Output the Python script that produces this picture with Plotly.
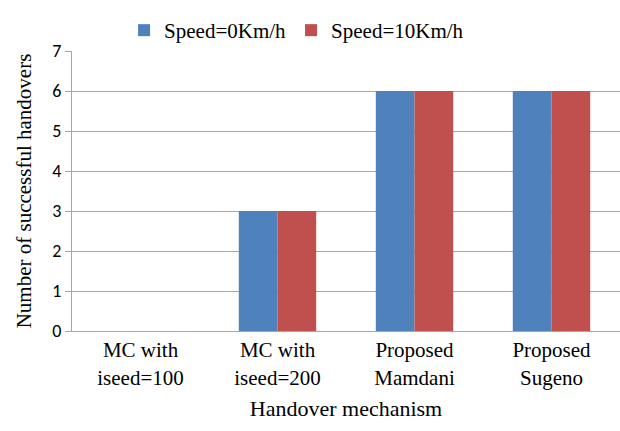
import plotly.graph_objects as go

categories = ["MC with<br>iseed=100", "MC with<br>iseed=200", "Proposed<br>Mamdani", "Proposed<br>Sugeno"]
speed0 = [0, 3, 6, 6]
speed10 = [0, 3, 6, 6]
series_names = ["Speed=0Km/h", "Speed=10Km/h"]
y_ticks = [0, 1, 2, 3, 4, 5, 6, 7]

serif = "Times New Roman"
sans = "Carlito"

fig = go.Figure()
fig.add_trace(go.Bar(x=categories, y=speed0, name=series_names[0], marker_color="#4f81bd",
                     marker_line_width=0))
fig.add_trace(go.Bar(x=categories, y=speed10, name=series_names[1], marker_color="#c0504d",
                     marker_line_width=0))

fig.update_layout(
    template="none",
    width=620, height=431,
    margin=dict(l=72, r=0, t=51, b=100),
    barmode="group", bargap=0.435, bargroupgap=0,
    font=dict(family=serif, size=21, color="#000000"),
    legend=dict(orientation="h", x=0.095, xanchor="left", y=1.0, yanchor="bottom",
                font=dict(family=serif, size=21), itemwidth=30, tracegroupgap=0),
    xaxis=dict(showline=True, linecolor="#a6a6a6", linewidth=1, ticks="", showgrid=False,
               tickfont=dict(family=serif, size=21),
               title=dict(text="Handover mechanism", font=dict(family=serif, size=22), standoff=12)),
    yaxis=dict(range=[0, 7], tickvals=y_ticks, showgrid=True, gridcolor="#a6a6a6", gridwidth=1,
               showline=True, linecolor="#a6a6a6", linewidth=1, ticks="outside", ticklen=6,
               tickcolor="#a6a6a6", tickfont=dict(family=sans, size=18), zeroline=False,
               title=dict(text="Number of successful handovers", font=dict(family=serif, size=21), standoff=14)),
)

fig.write_html("out.html")
